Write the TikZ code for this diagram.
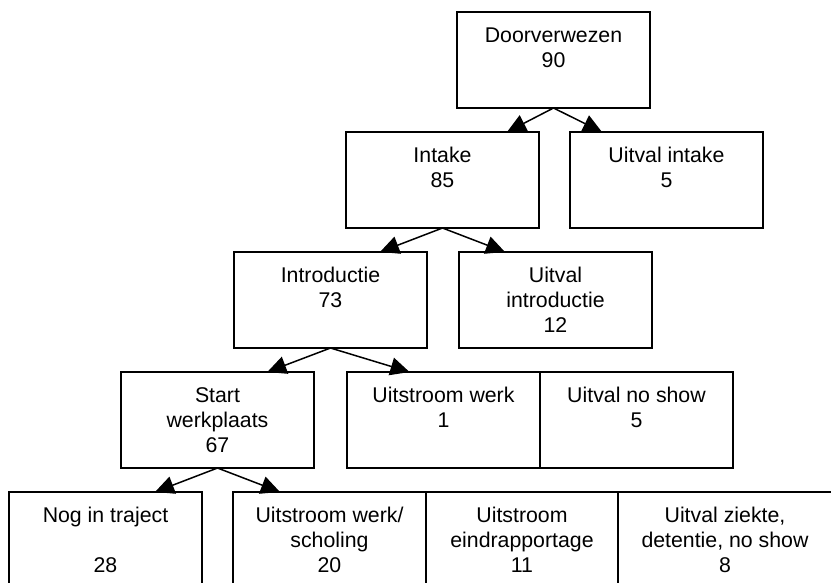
\documentclass[tikz,border=0pt]{standalone}
\usepackage{fontspec}
\setmainfont{Liberation Sans}
\usetikzlibrary{arrows.meta}
\newcommand\bxtext[3]{\parbox[c][#2][t]{#1}{\centering\rule{0pt}{30.5pt}#3}}
\tikzset{
  flowbox/.style={draw, line width=1.8pt, inner sep=0pt, outer sep=0pt, anchor=north west,
    font=\fontsize{21.3}{24.8}\selectfont},
  arr/.style={line width=1.5pt, -{Triangle[length=19pt,width=18pt]}}
}
\begin{document}
\begin{tikzpicture}[x=1pt,y=-1pt]
\useasboundingbox (0,0) rectangle (831,582);
% level 1
\node[flowbox] (door) at (457,12) {\bxtext{193pt}{96pt}{Doorverwezen\\90}};
% level 2
\node[flowbox] (intake) at (346,132) {\bxtext{193pt}{96pt}{Intake\\85}};
\node[flowbox] (uintake) at (570,132) {\bxtext{193pt}{96pt}{Uitval intake\\5}};
% level 3
\node[flowbox] (intro) at (234,252) {\bxtext{193pt}{96pt}{Introductie\\73}};
\node[flowbox] (uintro) at (459,252) {\bxtext{193pt}{96pt}{Uitval\\introductie\\12}};
% level 4
\node[flowbox] (start) at (121,372) {\bxtext{193pt}{96pt}{Start\\werkplaats\\67}};
\node[flowbox] (uwerk) at (347,372) {\bxtext{193pt}{96pt}{Uitstroom werk\\1}};
\node[flowbox] (noshow) at (540,372) {\bxtext{193pt}{96pt}{Uitval no show\\5}};
% level 5
\node[flowbox] (nog) at (9,492) {\bxtext{193pt}{110pt}{Nog in traject\\[24.8pt]28}};
\node[flowbox] (scholing) at (233,492) {\bxtext{193pt}{110pt}{Uitstroom werk/\\scholing\\20}};
\node[flowbox] (eind) at (426,492) {\bxtext{192pt}{110pt}{Uitstroom\\eindrapportage\\11}};
\node[flowbox] (ziekte) at (618,492) {\bxtext{214pt}{110pt}{Uitval ziekte,\\detentie, no show\\8}};
% connectors
\draw[arr] (door.south) -- ([xshift=64.5pt]intake.north);
\draw[arr] (door.south) -- ([xshift=-64.5pt]uintake.north);
\draw[arr] (intake.south) -- ([xshift=49.5pt]intro.north);
\draw[arr] (intake.south) -- ([xshift=-50.5pt]uintro.north);
\draw[arr] (intro.south) -- ([xshift=49.8pt]start.north);
\draw[arr] (intro.south) -- ([xshift=-34pt]uwerk.north);
\draw[arr] (start.south) -- ([xshift=49.5pt]nog.north);
\draw[arr] (start.south) -- ([xshift=-49.5pt]scholing.north);
\end{tikzpicture}
\end{document}
